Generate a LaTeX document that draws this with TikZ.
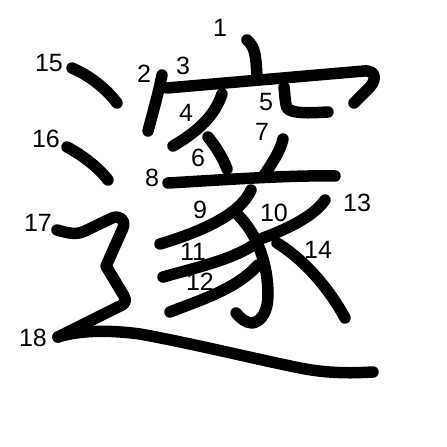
\documentclass[tikz,border=0pt]{standalone}
\usepackage{fontspec}
\setmainfont{Liberation Sans}
\begin{document}
\begin{tikzpicture}[x=1pt,y=-1pt,
  stroke/.style={line width=11.5pt,line cap=round,line join=round},
  num/.style={font=\fontsize{25}{25}\selectfont,inner sep=0pt}]
\useasboundingbox (0,0) rectangle (447,447);
\fill[white] (0,0) rectangle (447,447);
% strokes
\draw[stroke] (247,40) .. controls (255,47) and (256,55) .. (257,78);
\draw[stroke] (162,75) .. controls (158,95) and (153,112) .. (148,131);
\draw[stroke] (167,88) -- (364,71) .. controls (378,70) and (376,82) .. (368,89) -- (354,103);
\draw[stroke] (222,94) .. controls (214,118) and (195,133) .. (173,146);
\draw[stroke] (284,87) .. controls (285,95) and (285,103) .. (287,108) .. controls (292,114) and (310,113) .. (328,112);
\draw[stroke] (208,137) .. controls (216,147) and (223,158) .. (227,169);
\draw[stroke] (283,139) .. controls (280,152) and (272,163) .. (263,177);
\draw[stroke] (168,183) .. controls (220,180) and (290,175) .. (335,176);
\draw[stroke] (251,190) .. controls (240,215) and (200,232) .. (160,244);
\draw[stroke] (238,215) .. controls (258,235) and (268,265) .. (268,295) .. controls (268,310) and (262,322) .. (252,323) .. controls (246,323) and (240,318) .. (236,313);
\draw[stroke] (252,246) .. controls (230,260) and (195,268) .. (163,277);
\draw[stroke] (258,265) .. controls (235,290) and (200,300) .. (170,312);
\draw[stroke] (325,200) .. controls (315,215) and (290,228) .. (263,238);
\draw[stroke] (277,243) .. controls (305,260) and (330,290) .. (345,318);
\draw[stroke] (72,68) .. controls (88,75) and (105,87) .. (117,103);
\draw[stroke] (67,147) .. controls (82,155) and (98,167) .. (108,180);
\draw[stroke] (57,230) .. controls (65,232) and (75,236) .. (85,231) -- (112,218) .. controls (120,215) and (126,220) .. (123,228) -- (106,266) -- (124,296) .. controls (127,302) and (125,304) .. (118,307) -- (58,337);
\draw[stroke] (58,337) .. controls (80,330) and (110,330) .. (140,334) .. controls (190,343) and (260,360) .. (300,368) .. controls (330,374) and (355,373) .. (373,372);
% numbers
\node[num] (n1) at (220,28) {1};
\node[num] (n2) at (144,74) {2};
\node[num] (n3) at (183,66) {3};
\node[num] (n4) at (186,113) {4};
\node[num] (n5) at (266,102) {5};
\node[num] (n6) at (198,158) {6};
\node[num] (n7) at (262,132) {7};
\node[num] (n8) at (152,178) {8};
\node[num] (n9) at (200,210) {9};
\node[num] (n10) at (274,213) {10};
\node[num] (n11) at (193,252) {11};
\node[num] (n12) at (200,282) {12};
\node[num] (n13) at (357,203) {13};
\node[num] (n14) at (318,250) {14};
\node[num] (n15) at (49,63) {15};
\node[num] (n16) at (46,139) {16};
\node[num] (n17) at (38,223) {17};
\node[num] (n18) at (33,338) {18};
\end{tikzpicture}
\end{document}
